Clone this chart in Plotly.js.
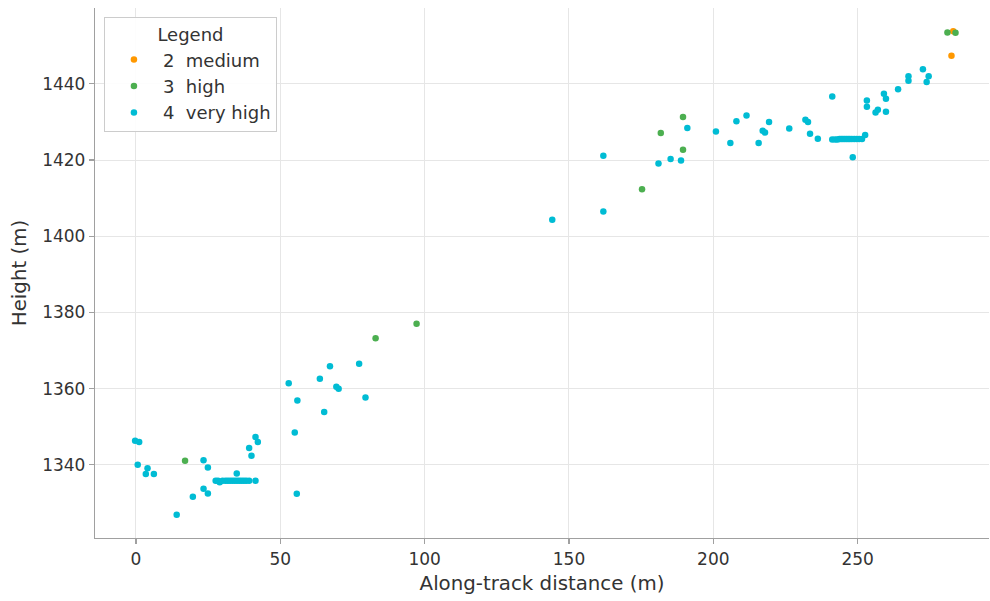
<!DOCTYPE html>
<html><head><meta charset="utf-8">
<script src="https://cdn.plot.ly/plotly-3.0.1.min.js"></script>
<style>html,body{margin:0;padding:0;background:#fff}#c{width:990px;height:601px}</style>
</head><body><div id="c"></div>
<script>
const mediumX = [283.1, 282.5];
const mediumY = [1453.8, 1447.4];
const highX = [17.0, 83.0, 97.2, 175.3, 181.8, 189.5, 189.5, 281.1, 283.9];
const highY = [1341.1, 1373.2, 1377.0, 1412.3, 1427.1, 1422.7, 1431.3, 1453.5, 1453.4];
const veryHighX = [-0.3, 1.1, 0.6, 4.0, 3.4, 6.2, 14.1, 19.7, 23.4, 24.9, 23.4, 24.9,
  27.6, 28.4, 29.0, 30.0, 31.0, 31.8, 32.6, 33.4, 34.2, 35.0, 35.8, 36.6, 37.4, 38.2, 39.2, 41.4,
  34.9, 39.2, 40.0, 41.4, 42.2, 55.0, 55.7,
  52.9, 55.9, 65.2, 63.7, 67.2, 69.4, 70.2, 77.3, 79.5,
  144.2, 161.9, 161.9, 181.0, 185.2, 188.8, 191.0, 200.9,
  205.9, 208.0, 211.5, 215.7, 217.1, 217.9, 219.3, 226.3, 231.9, 232.8, 233.5, 236.2, 241.2,
  241.2, 242.2, 243.0, 243.7, 244.3, 244.9, 245.5, 246.1, 246.7, 247.3, 248.0, 248.8, 249.6, 250.5, 251.5,
  248.3, 252.6, 253.2, 253.2, 256.2, 257.0, 259.1, 259.8, 259.8, 264.0, 267.6, 267.6, 272.6, 274.6, 273.9];
const veryHighY = [1346.3, 1346.0, 1340.0, 1339.1, 1337.6, 1337.6, 1326.9, 1331.6, 1341.2, 1339.3, 1333.7, 1332.5,
  1335.8, 1335.8, 1335.4, 1335.8, 1335.8, 1335.8, 1335.8, 1335.8, 1335.8, 1335.8, 1335.8, 1335.8, 1335.8, 1335.8, 1335.8, 1335.8,
  1337.7, 1344.4, 1342.4, 1347.3, 1346.0, 1348.5, 1332.4,
  1361.4, 1356.9, 1353.9, 1362.6, 1365.9, 1360.5, 1360.0, 1366.5, 1357.7,
  1404.3, 1406.5, 1421.1, 1419.1, 1420.3, 1419.9, 1428.4, 1427.5,
  1424.5, 1430.2, 1431.7, 1424.5, 1427.7, 1427.2, 1430.0, 1428.3, 1430.6, 1430.0, 1426.9, 1425.6, 1436.7,
  1425.4, 1425.4, 1425.4, 1425.5, 1425.5, 1425.5, 1425.5, 1425.5, 1425.5, 1425.5, 1425.5, 1425.5, 1425.5, 1425.5, 1425.5,
  1420.7, 1426.6, 1435.6, 1434.0, 1432.5, 1433.2, 1437.4, 1436.1, 1432.7, 1438.6, 1442.0, 1440.8, 1443.8, 1442.0, 1440.5];
const names = ['2  medium', '3  high', '4  very high'];
const colors = ['#ff9800', '#4caf50', '#00bcd4'];
const xTicks = [0, 50, 100, 150, 200, 250];
const yTicks = [1340, 1360, 1380, 1400, 1420, 1440];

const series = [[mediumX, mediumY], [highX, highY], [veryHighX, veryHighY]];
const traces = series.map((s, i) => ({
  type: 'scatter', mode: 'markers', x: s[0], y: s[1], name: names[i],
  marker: {color: colors[i], size: 6.5, line: {width: 0}}
}));
const axisCommon = {
  showline: true, linecolor: '#a0a0a0', linewidth: 1.2, mirror: false,
  showgrid: true, gridcolor: '#e6e6e6', gridwidth: 1, zeroline: false,
  ticks: 'outside', ticklen: 5, tickcolor: '#a0a0a0', tickwidth: 1.2,
  tickfont: {size: 17, color: '#333', family: 'DejaVu Sans'}
};
const layout = {
  width: 990, height: 601,
  margin: {l: 95, r: 1, t: 8, b: 63},
  paper_bgcolor: '#fff', plot_bgcolor: '#fff',
  font: {family: 'DejaVu Sans', color: '#333'},
  xaxis: Object.assign({}, axisCommon, {range: [-14.2, 295.5], tickvals: xTicks,
    title: {text: 'Along-track distance (m)', font: {size: 19.8, color: '#333'}, standoff: 8}}),
  yaxis: Object.assign({}, axisCommon, {range: [1320.8, 1459.9], tickvals: yTicks,
    title: {text: 'Height (m)', font: {size: 19.8, color: '#333'}, standoff: 10}}),
  showlegend: true,
  legend: {x: 0.01, y: 0.983, xanchor: 'left', yanchor: 'top',
    bgcolor: 'rgba(255,255,255,0.9)', bordercolor: '#cccccc', borderwidth: 1,
    font: {size: 18, color: '#333'}, itemsizing: 'trace', tracegroupgap: 0, itemwidth: 48,
    title: {text: 'Legend', side: 'top center', font: {size: 18, color: '#333'}}}
};
Plotly.newPlot('c', traces, layout, {displayModeBar: false, staticPlot: true});
</script></body></html>
